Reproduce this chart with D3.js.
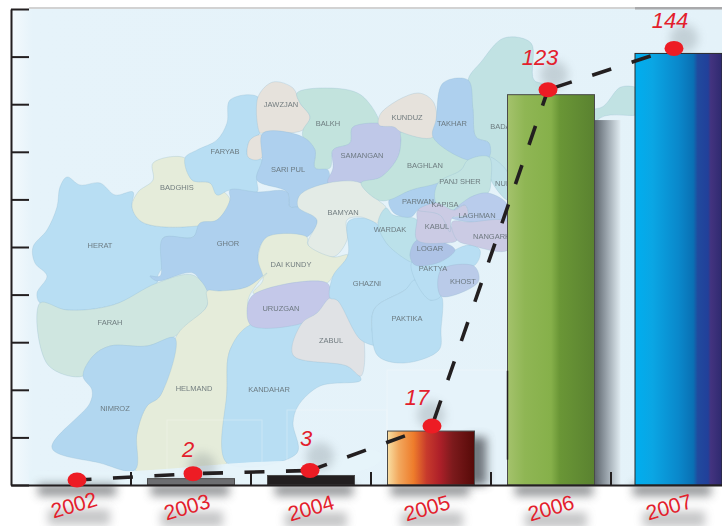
<!DOCTYPE html>
<html><head><meta charset="utf-8">
<script src="https://cdn.jsdelivr.net/npm/d3@7/dist/d3.min.js"></script>
<style>html,body{margin:0;padding:0;background:#fff;overflow:hidden}svg{display:block}text{font-family:"Liberation Sans",Arial,sans-serif}</style>
</head><body><svg id="c" width="722" height="526"></svg>
<script>
// ---- chart data
const years = ["2002","2003","2004","2005","2006","2007"];
const valueLabels = ["", "2", "3", "17", "123", "144"];
const barHeights = [0, 2, 3, 17, 123, 136];   // bar height as read against the axis ticks
const yTicks = [0,15,30,45,60,75,90,105,120,135,150];

// ---- background map illustration (traced outline geometry, not data)
const C = {sky:"#b8def3",blue:"#aed0ee",violet:"#bfc8e8",sand:"#e5ecda",cream:"#e6e2dc",mint:"#c2e3dd",teal:"#c1e2e3",lilac:"#cbcbe4",pale:"#e3ebe6",farah:"#cfe6e0",grey:"#e0e2e5"};
const mapShapes = [
 [C.teal,[[481,62],[504,38],[531,43],[534,80],[548,85],[560,100],[600,108],[621,87],[640,90],[640,113],[600,118],[560,180],[508,173],[489,157],[489,143],[476,137],[473,110],[468,80]]],
 [C.sky,[[67,177],[80,185],[100,183],[115,195],[133,192],[132,207],[142,222],[183,227],[200,223],[193,237],[163,238],[173,255],[167,262],[158,275],[157,283],[113,305],[67,310],[40,303],[37,293],[47,276],[35,263],[33,247],[47,230],[57,207],[60,187]]],
 [C.sand,[[153,163],[185,158],[192,180],[210,183],[230,200],[217,220],[183,227],[142,222],[132,207],[138,192],[153,180]]],
 [C.sky,[[230,100],[258,97],[260,133],[250,140],[248,157],[262,160],[257,180],[257,192],[230,190],[217,195],[210,183],[192,180],[185,158],[197,150],[217,140],[227,123]]],
 [C.cream,[[273,82],[293,88],[300,103],[310,117],[303,130],[263,133],[260,133],[258,97]]],
 [C.cream,[[250,140],[262,135],[263,156],[257,160],[248,157]]],
 [C.mint,[[297,93],[327,88],[361,95],[379,125],[353,127],[350,143],[333,150],[330,168],[315,168],[315,150],[303,137],[303,130],[310,117],[300,103]]],
 [C.blue,[[263,133],[303,137],[315,150],[315,168],[328,170],[328,183],[300,195],[298,207],[290,207],[287,192],[257,180],[262,160]]],
 [C.violet,[[353,127],[398,127],[401,140],[398,157],[381,177],[361,183],[328,183],[333,168],[333,150],[350,143]]],
 [C.blue,[[230,190],[257,192],[287,192],[290,207],[298,207],[317,220],[307,237],[267,237],[258,258],[267,270],[247,287],[220,291],[207,291],[193,273],[157,281],[150,276],[160,276],[163,238],[193,237],[200,223],[217,220],[230,200]]],
 [C.pale,[[300,195],[328,183],[361,183],[378,200],[386,208],[378,223],[361,217],[347,220],[347,240],[333,257],[308,245],[317,220],[298,207]]],
 [C.sand,[[267,237],[307,237],[308,245],[333,257],[348,255],[333,276],[327,283],[253,293],[263,280],[258,258]]],
 [C.farah,[[40,303],[67,310],[113,305],[157,283],[193,275],[208,293],[207,306],[177,335],[147,346],[110,346],[93,356],[83,376],[48,365]]],
 [C.sand,[[267,273],[258,283],[248,300],[250,325],[230,350],[227,390],[227,463],[135,470],[137,433],[147,406],[160,396],[177,335],[207,306],[207,291],[220,291],[247,287]]],
 ["#b2d7f0",[[83,376],[93,356],[110,346],[147,346],[175,338],[160,396],[147,406],[137,433],[135,470],[100,463],[52,448],[90,403],[92,390]]],
 [C.sky,[[250,325],[303,323],[293,355],[347,366],[361,380],[320,386],[298,406],[293,423],[297,453],[227,463],[227,390],[230,350]]],
 ["#c4c8e9",[[253,295],[327,283],[330,298],[317,313],[303,323],[252,326],[247,313]]],
 [C.grey,[[337,300],[361,326],[361,376],[347,366],[293,355],[302,323],[317,313],[330,298]]],
 [C.sky,[[333,276],[348,255],[348,222],[362,218],[378,225],[388,245],[412,262],[415,280],[405,290],[375,308],[372,330],[378,345],[361,340],[337,300],[330,298]]],
 [C.sky,[[375,308],[405,290],[415,280],[430,300],[441,296],[441,330],[439,350],[404,363],[378,356],[372,330]]],
 [C.sky,[[412,262],[440,262],[455,250],[470,245],[480,250],[475,265],[441,270],[441,296],[430,300],[415,280]]],
 ["#bacbe9",[[441,270],[474,266],[479,280],[471,288],[441,296]]],
 ["#bbe1ea",[[378,223],[386,208],[393,215],[417,220],[417,240],[410,255],[412,262],[388,245]]],
 ["#aec3e6",[[417,240],[445,243],[455,250],[440,262],[415,265],[410,255]]],
 [C.lilac,[[418,210],[440,215],[457,240],[445,243],[417,240],[417,220]]],
 [C.blue,[[389,200],[411,190],[438,183],[436,203],[418,210],[411,217],[394,213]]],
 [C.mint,[[401,132],[433,137],[468,160],[461,170],[438,183],[411,190],[389,200],[378,200],[361,183],[381,177],[398,157],[401,140]]],
 [C.cream,[[381,113],[418,93],[434,103],[433,137],[401,132],[394,127],[379,125]]],
 [C.blue,[[443,83],[468,80],[473,110],[476,137],[489,143],[489,157],[468,160],[433,137],[436,120]]],
 ["#bfe1e8",[[489,157],[508,173],[508,200],[491,180]]],
 ["#c2e3e1",[[438,183],[461,170],[468,160],[489,157],[491,180],[488,193],[471,197],[454,210],[436,203]]],
 [C.lilac,[[436,203],[454,210],[465,205],[468,215],[452,218],[450,232],[440,215],[418,210]]],
 ["#b9ccec",[[454,210],[471,197],[488,193],[508,205],[508,222],[470,222],[452,218],[468,215],[465,205]]],
 [C.lilac,[[452,222],[470,222],[508,222],[508,250],[470,245],[457,240]]]
];
const mapNames = ["HERAT","GHOR","BADGHIS","FARYAB","JAWZJAN","BALKH","SARI PUL","SAMANGAN","BAMYAN","KUNDUZ","TAKHAR","BADAKHSHAN","BAGHLAN","PANJ SHER","NURISTAN","PARWAN","KAPISA","LAGHMAN","WARDAK","KABUL","LOGAR","NANGARHAR","DAI KUNDY","GHAZNI","PAKTYA","KHOST","PAKTIKA","URUZGAN","ZABUL","FARAH","HELMAND","KANDAHAR","NIMROZ"];
const mapNameSpots = [[100,245],[228,243],[177,187],[225,151],[281,104],[328,123],[288,169],[362,155],[343,212],[407,117],[452,123],[516,126],[425,165],[460,181],[514,183],[418,201],[445,204],[477,215],[390,229],[437,226],[430,248],[497,236],[291,264],[367,283],[433,268],[463,281],[407,318],[281,308],[331,340],[110,322],[194,388],[269,389],[115,408]];

// ---- scales
const svg = d3.select("#c");
const x = d3.scaleBand().domain(years).range([11,731]);
const y = d3.scaleLinear().domain([0,150]).range([485,9]);
const barWidth = x.bandwidth()*0.725;

// small hand-drawn drifts seen in the original artwork
const barDrift = {"2007":7.5};
const dotDrift = {"2002":6,"2003":2,"2004":-1,"2005":1,"2006":-3,"2007":3};
const dotLift = 5;
const valueDrift = {"2003":[-3,-17],"2004":[-5,-24],"2005":[-14,-21],"2006":[-11,-25],"2007":[-1,-20]};
const yearDrift = {"2002":[3,20],"2003":[-4,22],"2004":[0,23],"2005":[-4,23],"2006":[0,23],"2007":[-2,22]};
const dashPhase = [5.5,31.5,2,34.5,36.5];
const cx = d => x(d)+x.bandwidth()/2;

// ---- defs
const defs = svg.append("defs");
function lin(id,stops){const g=defs.append("linearGradient").attr("id",id);stops.forEach(s=>g.append("stop").attr("offset",s[0]).attr("stop-color",s[1]));}
lin("g2005",[[0,"#f9dfa3"],[.13,"#f2a85e"],[.3,"#ee7c2b"],[.45,"#c73a2c"],[.6,"#ae2029"],[.75,"#7c1a1c"],[1,"#560a08"]]);
lin("g2006",[[0,"#a4c26c"],[.2,"#8fb654"],[.5,"#86b04a"],[.6,"#6a9636"],[1,"#5a8230"]]);
lin("g2007",[[0,"#00aeef"],[.2,"#0aa6e4"],[.5,"#0a88cb"],[.67,"#0a70b4"],[.72,"#214a9e"],[.84,"#21409a"],[.87,"#43337f"],[1,"#2e2a70"]]);
lin("shade",[[0,"#5c646c"],[.45,"#96a0a8"],[1,"#e0ebf1"]]);
lin("sky",[[0,"#f4fafd"],[.03,"#e6f3fa"],[1,"#e4f2f9"]]);
[["b04",.6],["b2",2],["b5",5],["b8",8]].forEach(b=>{
  defs.append("filter").attr("id",b[0]).attr("x","-100%").attr("y","-300%").attr("width","300%").attr("height","700%")
    .append("feGaussianBlur").attr("stdDeviation",b[1]);
});
const fillOf = {"2003":"#6d6e71","2004":"#231f20","2005":"url(#g2005)","2006":"url(#g2006)","2007":"url(#g2007)"};

// ---- background
svg.append("rect").attr("x",y.range()[1]+2).attr("y",9).attr("width",711).attr("height",476).attr("fill","url(#sky)");
const outline = d3.line().curve(d3.curveCatmullRomClosed.alpha(.5));
const map = svg.append("g").attr("filter","url(#b04)");
map.selectAll("path").data(mapShapes).join("path")
  .attr("d",d=>outline(d[1])).attr("fill",d=>d[0])
  .attr("stroke","#8fb6cc").attr("stroke-opacity",.4).attr("stroke-width",.7).attr("stroke-linejoin","round");
map.selectAll("text").data(mapNames).join("text")
  .attr("x",(d,i)=>mapNameSpots[i][0]).attr("y",(d,i)=>mapNameSpots[i][1]+2.5)
  .attr("text-anchor","middle").attr("font-size",7.5).attr("fill","#5f6b70").attr("fill-opacity",.85).text(d=>d);

// pale halo boxes left around the bars by the artwork
[[387,370,120,115,"#e6f3fa",1],[287,410,100,75,"#e8f4fa",0],[167,420,95,65,"#ffffff",0]].forEach(r=>
  svg.append("rect").attr("x",r[0]).attr("y",r[1]).attr("width",r[2]).attr("height",r[3]).attr("fill",r[4]).attr("fill-opacity",r[5])
     .attr("stroke","#fff").attr("stroke-opacity",.25));
svg.append("path").attr("d",d3.line().curve(d3.curveBasis)([[29,470],[130,474],[250,460],[330,462],[387,440],[387,485],[29,485]]))
   .attr("fill","#e6f3fa").attr("opacity",.95);

// top rule
svg.append("rect").attr("x",29).attr("y",7).attr("width",693).attr("height",2).attr("fill","#d2d2d2");
svg.append("rect").attr("x",x("2007")+barDrift["2007"]+x.bandwidth()/2-barWidth/2).attr("y",7).attr("width",90).attr("height",2.5).attr("fill","#a9a9ab");

// ---- shadows
const base = y(0);
const shadow = svg.append("g");
shadow.append("rect").attr("x",cx("2006")+barWidth/2).attr("y",y(115)).attr("width",26).attr("height",base-y(115)).attr("fill","url(#shade)");
shadow.append("rect").attr("x",cx("2005")+barWidth/2-8).attr("y",y(17)+6).attr("width",20).attr("height",base-y(17)-6).attr("fill","#4a4d52").attr("opacity",.75).attr("filter","url(#b5)");
years.forEach(d=>{
  const o=yearDrift[d];
  shadow.append("rect").attr("x",cx(d)+o[0]-36).attr("y",base-1).attr("width",78).attr("height",12).attr("fill","#4f5256").attr("opacity",.6).attr("filter","url(#b5)");
  shadow.append("rect").attr("x",cx(d)+o[0]-26).attr("y",base+o[1]+4).attr("width",62).attr("height",16).attr("fill","#77797d").attr("opacity",.42).attr("filter","url(#b5)");
});
years.forEach((d,i)=>{ if(!valueLabels[i]) return;
  const o=valueDrift[d];
  shadow.append("ellipse").attr("cx",cx(d)+o[0]+14).attr("cy",y(barHeights[i])-dotLift+o[1]+10).attr("rx",14).attr("ry",14)
    .attr("fill","#6f7a80").attr("opacity",.28).attr("filter","url(#b5)");
});
svg.select("rect").raise; // background remains first

// ---- bars
const bars = years.map((d,i)=>({d,v:barHeights[i]})).filter(b=>b.v>0);
svg.selectAll("rect.bar").data(bars).join("rect").attr("class","bar")
  .attr("x",b=>cx(b.d)+(barDrift[b.d]||0)-barWidth/2)
  .attr("y",b=>y(b.v)).attr("width",barWidth).attr("height",b=>base-y(b.v))
  .attr("fill",b=>fillOf[b.d])
  .attr("stroke",b=>b.d==="2007"?"#2a2a2a":"#4a4a4a").attr("stroke-width",1);
svg.append("line").attr("x1",cx("2006")-barWidth/2).attr("x2",cx("2006")-barWidth/2)
  .attr("y1",y(36)).attr("y2",y(8)).attr("stroke","#231f20").attr("stroke-width",1.5);

// ---- axes
const ax = svg.append("g").attr("transform",`translate(${x.range()[0]},0)`)
  .call(d3.axisLeft(y).tickValues(yTicks).tickSize(-18).tickSizeOuter(0).tickFormat(""));
const bx = svg.append("g").attr("transform",`translate(0,${base})`)
  .call(d3.axisBottom(x).tickValues(years.slice(1)).tickSize(-13).tickSizeOuter(0).tickFormat(""));
bx.selectAll(".tick").attr("transform",d=>`translate(${x(d)},0)`);
[ax,bx].forEach(g=>{
  g.selectAll("path.domain").attr("stroke","#231f20").attr("stroke-width",2);
  g.selectAll("line").attr("stroke","#231f20").attr("stroke-width",2);
});

// ---- dashed line & markers
const pts = years.map((d,i)=>[cx(d)+dotDrift[d], y(barHeights[i])-dotLift]);
d3.pairs(pts).forEach((seg,i)=>{
  svg.append("path").attr("d",d3.line()(seg)).attr("fill","none")
    .attr("stroke","#231f20").attr("stroke-width",3.6)
    .attr("stroke-dasharray","20 21.5").attr("stroke-dashoffset",dashPhase[i]);
});
svg.selectAll("ellipse.dot").data(pts).join("ellipse").attr("class","dot")
  .attr("cx",p=>p[0]).attr("cy",p=>p[1]).attr("rx",9.5).attr("ry",7.5).attr("fill","#ed1c24");

// ---- texts
svg.selectAll("text.val").data(years.filter((d,i)=>valueLabels[i])).join("text").attr("class","val")
  .attr("x",d=>cx(d)+valueDrift[d][0])
  .attr("y",d=>y(barHeights[years.indexOf(d)])-dotLift+valueDrift[d][1])
  .attr("text-anchor","middle").attr("font-size",22).attr("font-style","italic").attr("fill","#e3202c")
  .text(d=>valueLabels[years.indexOf(d)]);
svg.selectAll("text.yr").data(years).join("text").attr("class","yr")
  .attr("transform",d=>`translate(${cx(d)+yearDrift[d][0]},${base+yearDrift[d][1]}) rotate(-16)`)
  .attr("text-anchor","middle").attr("dy","0.35em").attr("font-size",21).attr("fill","#e3202c").text(d=>d);
</script></body></html>
